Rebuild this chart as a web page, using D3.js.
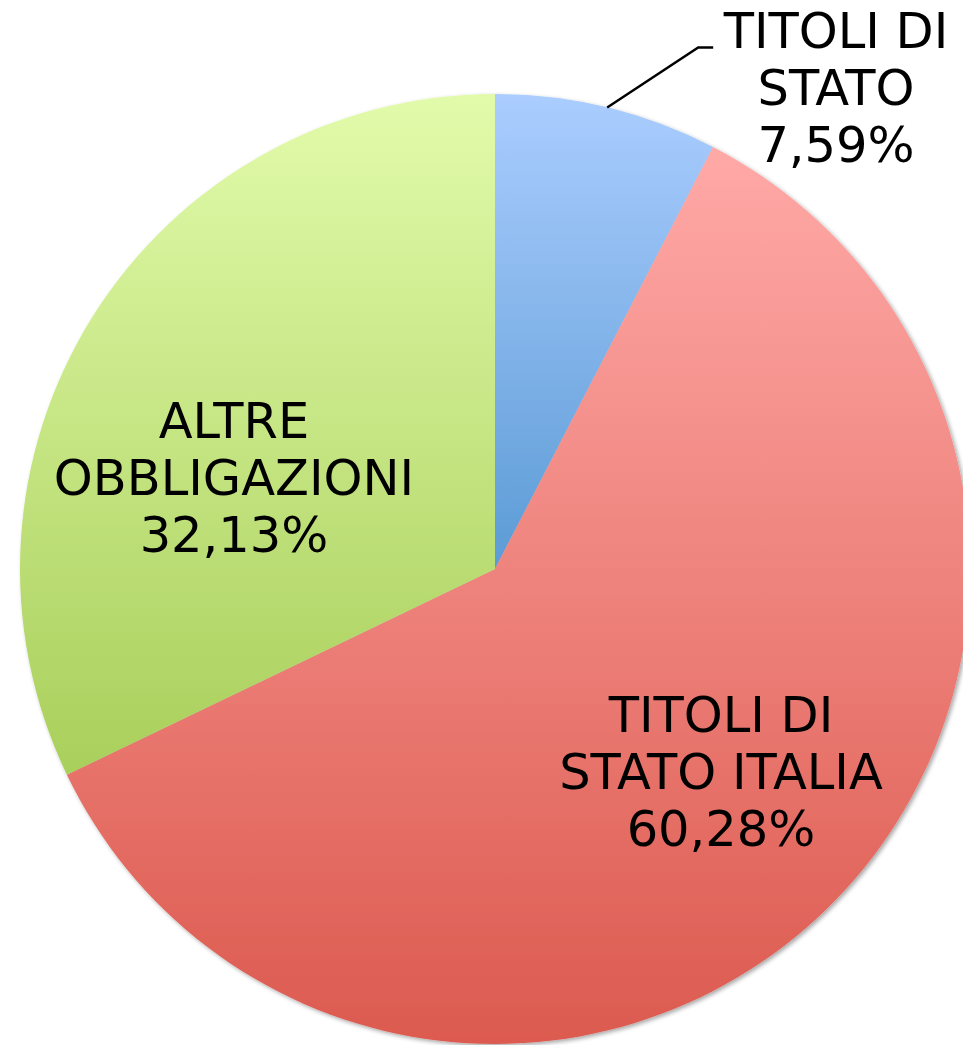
<!DOCTYPE html>
<html lang="it">
<head>
<meta charset="UTF-8">
<title>Composizione</title>
<script src="https://d3js.org/d3.v7.min.js"></script>
<style>
  html, body { margin: 0; padding: 0; background: #fff; }
  svg { display: block; }
  .lbl { font-family: "DejaVu Sans", Verdana, sans-serif; font-size: 49.5px; fill: #000; text-anchor: middle; }
</style>
</head>
<body>
<div id="chart"></div>
<script>
// data
const categories = ["TITOLI DI STATO", "TITOLI DI STATO ITALIA", "ALTRE OBBLIGAZIONI"];
const values = [7.59, 60.28, 32.13];
const labelLines = [["TITOLI DI", "STATO"], ["TITOLI DI", "STATO ITALIA"], ["ALTRE", "OBBLIGAZIONI"]];
const colorsTop = ["#abcdff", "#ffa9a7", "#e2fbab"];
const colorsBottom = ["#5b9bd5", "#dc5a4f", "#a9cf5b"];

const width = 963, height = 1045;
const cx = 495, cy = 569, radius = 475;
// label anchor (center x, first baseline y) per slice
const labelPos = [[836, 48], [721, 732], [234, 438]];
const lineH = 57;

const svg = d3.select("#chart").append("svg")
  .attr("width", width).attr("height", height);

const defs = svg.append("defs");
const shadow = defs.append("filter").attr("id", "shadow")
  .attr("x", "-5%").attr("y", "-5%").attr("width", "110%").attr("height", "110%");
shadow.append("feDropShadow").attr("dx", 2).attr("dy", 2)
  .attr("stdDeviation", 2).attr("flood-color", "#000").attr("flood-opacity", 0.35);

categories.forEach((c, i) => {
  const g = defs.append("linearGradient").attr("id", "grad" + i)
    .attr("x1", 0).attr("y1", 0).attr("x2", 0).attr("y2", 1);
  g.append("stop").attr("offset", "0%").attr("stop-color", colorsTop[i]);
  g.append("stop").attr("offset", "100%").attr("stop-color", colorsBottom[i]);
});

const pie = d3.pie().sort(null).value(d => d);
const arcs = pie(values);
const arc = d3.arc().innerRadius(0).outerRadius(radius);

const g = svg.append("g").attr("transform", `translate(${cx},${cy})`);

g.append("g").attr("filter", "url(#shadow)")
  .selectAll("path")
  .data(arcs)
  .enter().append("path")
  .attr("d", arc)
  .attr("fill", (d, i) => `url(#grad${i})`);

// leader line for the small slice
const a0 = arcs[0];
const mid = (a0.startAngle + a0.endAngle) / 2;
const p1 = [Math.sin(mid) * radius, -Math.cos(mid) * radius];
const p2 = [p1[0] + 91, p1[1] - 60];
const p3 = [p2[0] + 15, p2[1]];
g.append("polyline")
  .attr("points", [p1, p2, p3].map(p => p.join(",")).join(" "))
  .attr("fill", "none").attr("stroke", "#000").attr("stroke-width", 2.5);

// labels
arcs.forEach((d, i) => {
  const lines = labelLines[i].concat([d3.format(".2f")(values[i]).replace(".", ",") + "%"]);
  const t = svg.append("text").attr("class", "lbl");
  lines.forEach((ln, k) => {
    t.append("tspan").attr("x", labelPos[i][0]).attr("y", labelPos[i][1] + k * lineH).text(ln);
  });
});
</script>
</body>
</html>
